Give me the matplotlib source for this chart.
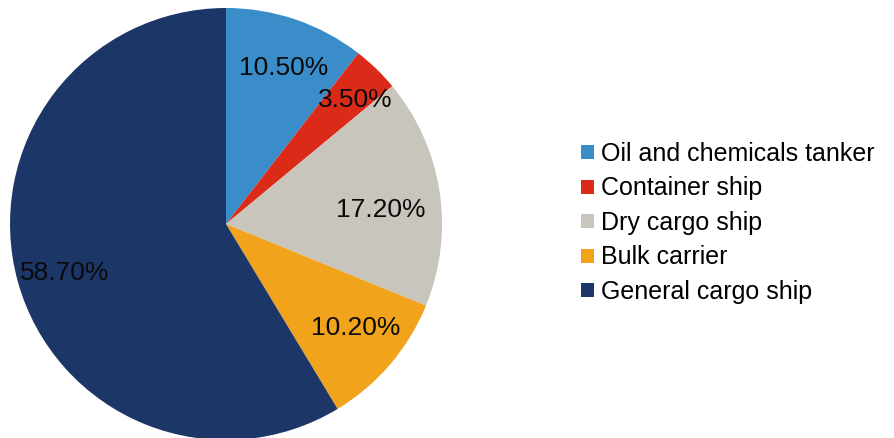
import numpy as np
import matplotlib.pyplot as plt

plt.rcParams['font.family'] = ['Liberation Sans', 'DejaVu Sans']

categories = ["Oil and chemicals tanker", "Container ship", "Dry cargo ship",
              "Bulk carrier", "General cargo ship"]
shares = [10.5, 3.5, 17.2, 10.2, 58.7]
colors = ["#3a8dc9", "#dc2a18", "#c8c5bd", "#f1a31b", "#1c3767"]

fig = plt.figure(figsize=(8.95, 4.38), dpi=100)
# pie axes: centre around (226, 214) px, radius ~216 px
ax = fig.add_axes([10 / 895, -2 / 438, 432 / 895, 432 / 438])

wedges, texts, autotexts = ax.pie(
    shares, colors=colors, startangle=90, counterclock=False,
    autopct=lambda p: f"{p:.2f}%", pctdistance=0.76,
    textprops=dict(fontsize=19, color="#0a0a0a"),
    wedgeprops=dict(linewidth=0),
)
ax.set_xlim(-1, 1)
ax.set_ylim(-1, 1)
ax.set_aspect("equal")

# label radius / angular nudge per slice
label_r = [0.77, 0.83, 0.72, 0.77, 0.78]
label_dt = [-1.5, -2.0, -3.5, 2.0, 1.5]
for t, w, v, r, dt in zip(autotexts, wedges, shares, label_r, label_dt):
    t.set_text(f"{v:.2f}%")
    a = np.deg2rad((w.theta1 + w.theta2) / 2 + dt)
    t.set_position((r * np.cos(a), r * np.sin(a)))

fig.legend(wedges, categories, loc="upper left",
           bbox_to_anchor=(571 / 895, 1 - 132 / 438),
           frameon=False, fontsize=18, handlelength=0.5, handleheight=0.5,
           handletextpad=0.3, labelspacing=0.42, borderaxespad=0)

fig.savefig("out.png", dpi=100)
